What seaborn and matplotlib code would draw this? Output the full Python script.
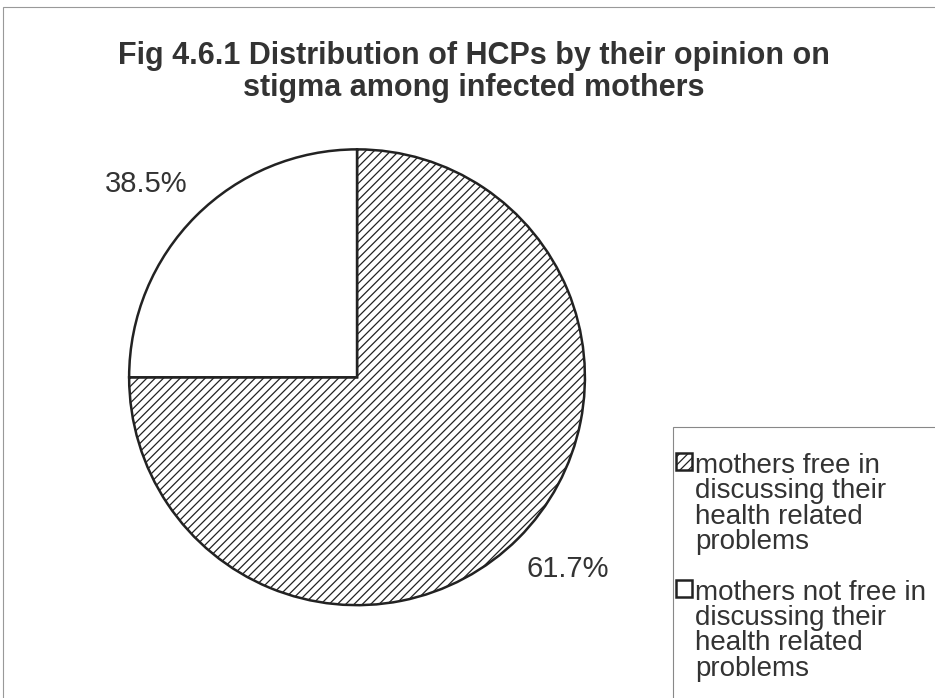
import matplotlib
matplotlib.use("Agg")
import matplotlib.pyplot as plt
import seaborn as sns
from matplotlib.patches import Rectangle
from matplotlib.offsetbox import HPacker

# slice sizes as drawn in the picture; the printed labels differ from them
CATEGORIES = ["mothers free in\ndiscussing their\nhealth related\nproblems",
              "mothers not free in\ndiscussing their\nhealth related\nproblems"]
SLICE_SIZES = [75, 25]
PCT_LABELS = ["61.7%", "38.5%"]
TITLE = "Fig 4.6.1 Distribution of HCPs by their opinion on\nstigma among infected mothers"

sns.set_theme(style="white")
plt.rcParams["font.family"] = ["Liberation Sans", "DejaVu Sans"]
plt.rcParams["hatch.linewidth"] = 0.9
plt.rcParams["hatch.color"] = "#222222"

TEXT = "#333333"

fig = plt.figure(figsize=(9.35, 6.98), dpi=100)
ax = fig.add_axes([0.138, 0.133, 0.4877, 0.653])

wedges, texts = ax.pie(
    SLICE_SIZES,
    labels=PCT_LABELS,
    startangle=90,
    counterclock=False,
    colors=["white", "white"],
    labeldistance=1.25,
    wedgeprops=dict(edgecolor="#222222", linewidth=1.8),
    textprops=dict(fontsize=21, color=TEXT, ha="center", va="center"),
)
wedges[0].set_hatch("////")
# nudge the percentage labels to where the original puts them
texts[0].set_position((0.923, -0.84))
texts[1].set_position((-0.923, 0.85))
ax.set_xlim(-1, 1)
ax.set_ylim(-1, 1)
ax.set_aspect("equal")

fig.text(0.507, 1 - 72 / 698, TITLE, ha="center", va="center", fontsize=22,
         fontweight="bold", color=TEXT, linespacing=1.1)

leg = fig.legend(wedges, CATEGORIES, loc="upper left",
                 bbox_to_anchor=(676 / 935, 1 - 453 / 698),
                 fontsize=20, frameon=False,
                 handlelength=0.58, handleheight=0.58, handletextpad=0.12,
                 labelspacing=0.88, borderpad=0, borderaxespad=0)
for t in leg.get_texts():
    t.set_color(TEXT)
    t.set_linespacing(0.97)
for hp in leg.findobj(HPacker):
    hp.align = "top"

# legend frame and outer chart-area border
fig.patches.append(Rectangle((673 / 935, -0.1), 0.5, 1.1 - 427 / 698,
                             transform=fig.transFigure, fill=False,
                             edgecolor="#888888", linewidth=0.8))
fig.patches.append(Rectangle((3 / 935, -0.1), 1.1, 1.1 - 7 / 698,
                             transform=fig.transFigure, fill=False,
                             edgecolor="#999999", linewidth=0.8))

fig.savefig("out.png", dpi=100, facecolor="white")
